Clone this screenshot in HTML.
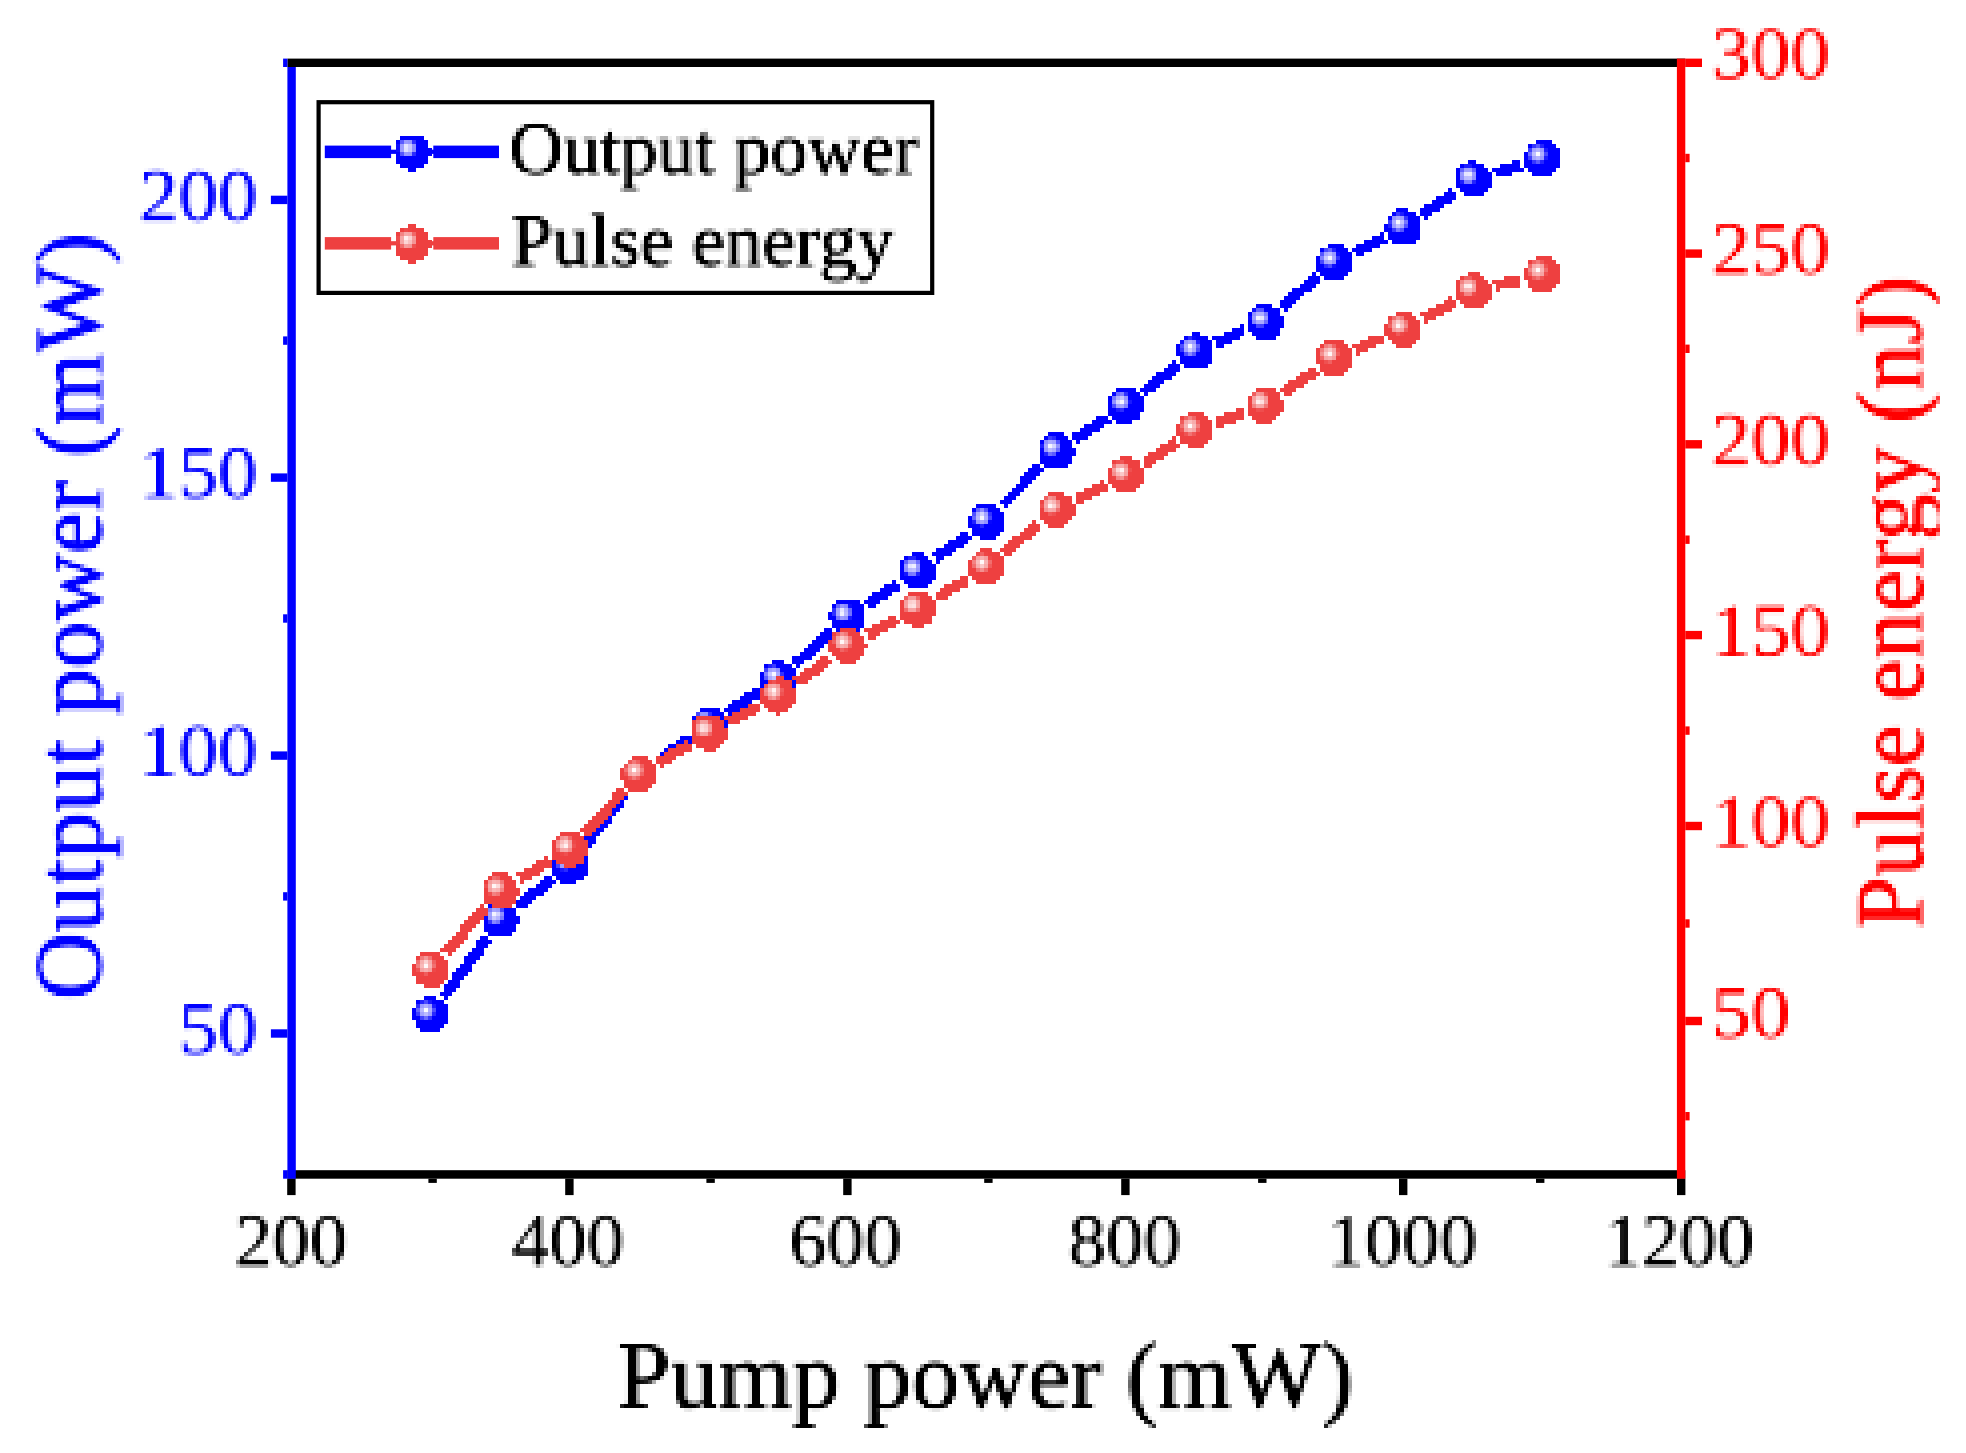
<!DOCTYPE html>
<html lang="en"><head><meta charset="utf-8"><title>Output power and pulse energy vs pump power</title>
<style>html,body{margin:0;padding:0;background:#fff;}body{width:1966px;height:1453px;overflow:hidden;}svg{display:block;}</style>
</head><body>
<svg width="1966" height="1453" viewBox="0 0 1966 1453">
<defs>
<radialGradient id="gb" cx="0.36" cy="0.375" r="0.27"><stop offset="0" stop-color="#ffffff"/><stop offset="0.2" stop-color="#f0f0ff"/><stop offset="0.4" stop-color="#b4b4ff"/><stop offset="0.7" stop-color="#9090ff"/><stop offset="1" stop-color="#0000ff"/></radialGradient>
<radialGradient id="gr" cx="0.36" cy="0.375" r="0.27"><stop offset="0" stop-color="#ffffff"/><stop offset="0.2" stop-color="#fff0f0"/><stop offset="0.4" stop-color="#f9b8b8"/><stop offset="0.7" stop-color="#f59c9c"/><stop offset="1" stop-color="#ee4040"/></radialGradient>
<clipPath id="cr"><rect x="0" y="0" width="1938.5" height="1453"/></clipPath>
<filter id="pxh" x="0" y="0" width="1966" height="1453" filterUnits="userSpaceOnUse" color-interpolation-filters="sRGB">
<feFlood x="1" y="1" width="1" height="1" flood-color="#000" result="dot"/>
<feOffset in="dot" dx="0" dy="0" x="0" y="0" width="4" height="4" result="cell"/>
<feTile in="cell" x="0" y="0" width="1966" height="1453" result="mask"/>
<feComposite in="SourceGraphic" in2="mask" operator="in" result="s0"/>
<feOffset in="s0" dx="1" dy="0" result="o1"/><feMerge result="s1"><feMergeNode in="s0"/><feMergeNode in="o1"/></feMerge>
<feOffset in="s1" dx="2" dy="0" result="o2"/><feMerge result="s2"><feMergeNode in="s1"/><feMergeNode in="o2"/></feMerge>
<feOffset in="s2" dx="0" dy="1" result="o3"/><feMerge result="s3"><feMergeNode in="s2"/><feMergeNode in="o3"/></feMerge>
<feOffset in="s3" dx="0" dy="2" result="o4"/><feMerge result="s4"><feMergeNode in="s3"/><feMergeNode in="o4"/></feMerge>
<feOffset in="s4" dx="-1" dy="-1" result="s5"/>
<feGaussianBlur in="s5" stdDeviation="0.45"/>
</filter>
<filter id="pxs" x="0" y="0" width="1966" height="1453" filterUnits="userSpaceOnUse" color-interpolation-filters="sRGB">
<feGaussianBlur in="SourceGraphic" stdDeviation="1.15" result="b0"/>
<feComponentTransfer in="b0" result="b"><feFuncA type="linear" slope="1.12" intercept="0"/></feComponentTransfer>
<feFlood x="1" y="1" width="1" height="1" flood-color="#000" result="dot"/>
<feOffset in="dot" dx="0" dy="0" x="0" y="0" width="4" height="4" result="cell"/>
<feTile in="cell" x="0" y="0" width="1966" height="1453" result="mask"/>
<feComposite in="b" in2="mask" operator="in" result="s0"/>
<feOffset in="s0" dx="1" dy="0" result="o1"/><feMerge result="s1"><feMergeNode in="s0"/><feMergeNode in="o1"/></feMerge>
<feOffset in="s1" dx="2" dy="0" result="o2"/><feMerge result="s2"><feMergeNode in="s1"/><feMergeNode in="o2"/></feMerge>
<feOffset in="s2" dx="0" dy="1" result="o3"/><feMerge result="s3"><feMergeNode in="s2"/><feMergeNode in="o3"/></feMerge>
<feOffset in="s3" dx="0" dy="2" result="o4"/><feMerge result="s4"><feMergeNode in="s3"/><feMergeNode in="o4"/></feMerge>
<feOffset in="s4" dx="-1" dy="-1" result="s5"/>
<feGaussianBlur in="s5" stdDeviation="0.45"/>
</filter>
<filter id="pxt" x="0" y="0" width="1966" height="1453" filterUnits="userSpaceOnUse" color-interpolation-filters="sRGB">
<feGaussianBlur in="SourceGraphic" stdDeviation="1.15" result="b0"/>
<feComponentTransfer in="b0" result="b"><feFuncA type="linear" slope="1.4" intercept="0"/></feComponentTransfer>
<feFlood x="1" y="1" width="1" height="1" flood-color="#000" result="dot"/>
<feOffset in="dot" dx="0" dy="0" x="0" y="0" width="4" height="4" result="cell"/>
<feTile in="cell" x="0" y="0" width="1966" height="1453" result="mask"/>
<feComposite in="b" in2="mask" operator="in" result="s0"/>
<feOffset in="s0" dx="1" dy="0" result="o1"/><feMerge result="s1"><feMergeNode in="s0"/><feMergeNode in="o1"/></feMerge>
<feOffset in="s1" dx="2" dy="0" result="o2"/><feMerge result="s2"><feMergeNode in="s1"/><feMergeNode in="o2"/></feMerge>
<feOffset in="s2" dx="0" dy="1" result="o3"/><feMerge result="s3"><feMergeNode in="s2"/><feMergeNode in="o3"/></feMerge>
<feOffset in="s3" dx="0" dy="2" result="o4"/><feMerge result="s4"><feMergeNode in="s3"/><feMergeNode in="o4"/></feMerge>
<feOffset in="s4" dx="-1" dy="-1" result="s5"/>
<feGaussianBlur in="s5" stdDeviation="0.45"/>
</filter>
<filter id="soft" x="0" y="0" width="1966" height="1453" filterUnits="userSpaceOnUse"><feGaussianBlur stdDeviation="0.45"/></filter>
</defs>
<rect width="1966" height="1453" fill="#fff"/>
<g id="legend-lines" filter="url(#soft)">
<rect x="324.8" y="145.6" width="66.3" height="12.5" fill="#0000ff"/>
<rect x="433.3" y="145.6" width="65.7" height="12.5" fill="#0000ff"/>
<rect x="391" y="149.7" width="43" height="4.2" fill="#0000ff"/>
<rect x="324.8" y="237.1" width="66.3" height="12.5" fill="#ee4040"/>
<rect x="433.3" y="237.1" width="65.7" height="12.5" fill="#ee4040"/>
<rect x="391" y="241.2" width="43" height="4.2" fill="#ee4040"/>
</g>
<g id="series" filter="url(#pxh)" shape-rendering="crispEdges">
<g id="blue-series">
<line x1="443.3" y1="996.6" x2="486.9" y2="936.9" stroke="#0000ff" stroke-width="11.0"/>
<line x1="517.2" y1="905.6" x2="552.0" y2="878.6" stroke="#0000ff" stroke-width="11.0"/>
<line x1="582.7" y1="847.6" x2="625.5" y2="791.5" stroke="#0000ff" stroke-width="11.0"/>
<line x1="656.7" y1="761.2" x2="690.4" y2="737.1" stroke="#0000ff" stroke-width="11.0"/>
<line x1="726.7" y1="712.2" x2="759.4" y2="690.8" stroke="#0000ff" stroke-width="11.0"/>
<line x1="794.2" y1="664.0" x2="831.0" y2="631.0" stroke="#0000ff" stroke-width="11.0"/>
<line x1="865.7" y1="604.3" x2="898.4" y2="583.0" stroke="#0000ff" stroke-width="11.0"/>
<line x1="934.7" y1="558.2" x2="968.4" y2="533.8" stroke="#0000ff" stroke-width="11.0"/>
<line x1="1001.8" y1="505.3" x2="1040.3" y2="466.3" stroke="#0000ff" stroke-width="11.0"/>
<line x1="1074.2" y1="438.6" x2="1106.9" y2="417.2" stroke="#0000ff" stroke-width="11.0"/>
<line x1="1142.6" y1="391.7" x2="1177.4" y2="364.5" stroke="#0000ff" stroke-width="11.0"/>
<line x1="1215.1" y1="342.5" x2="1244.0" y2="330.3" stroke="#0000ff" stroke-width="11.0"/>
<line x1="1280.9" y1="307.4" x2="1317.1" y2="276.2" stroke="#0000ff" stroke-width="11.0"/>
<line x1="1353.4" y1="251.9" x2="1383.6" y2="236.6" stroke="#0000ff" stroke-width="11.0"/>
<line x1="1421.4" y1="214.3" x2="1454.6" y2="191.5" stroke="#0000ff" stroke-width="11.0"/>
<line x1="1493.8" y1="172.7" x2="1521.2" y2="164.5" stroke="#0000ff" stroke-width="11.0"/>
<circle cx="430.4" cy="1014.4" r="18.3" fill="url(#gb)"/>
<circle cx="499.9" cy="919.1" r="18.3" fill="url(#gb)"/>
<circle cx="569.4" cy="865.1" r="18.3" fill="url(#gb)"/>
<circle cx="638.9" cy="774.0" r="18.3" fill="url(#gb)"/>
<circle cx="708.3" cy="724.3" r="18.3" fill="url(#gb)"/>
<circle cx="777.8" cy="678.7" r="18.3" fill="url(#gb)"/>
<circle cx="847.3" cy="616.3" r="18.3" fill="url(#gb)"/>
<circle cx="916.8" cy="571.0" r="18.3" fill="url(#gb)"/>
<circle cx="986.3" cy="521.0" r="18.3" fill="url(#gb)"/>
<circle cx="1055.8" cy="450.6" r="18.3" fill="url(#gb)"/>
<circle cx="1125.3" cy="405.2" r="18.3" fill="url(#gb)"/>
<circle cx="1194.8" cy="351.0" r="18.3" fill="url(#gb)"/>
<circle cx="1264.3" cy="321.8" r="18.3" fill="url(#gb)"/>
<circle cx="1333.8" cy="261.8" r="18.3" fill="url(#gb)"/>
<circle cx="1403.2" cy="226.7" r="18.3" fill="url(#gb)"/>
<circle cx="1472.7" cy="179.1" r="18.3" fill="url(#gb)"/>
<circle cx="1542.2" cy="158.1" r="18.3" fill="url(#gb)"/>
</g>
<g id="red-series">
<line x1="444.9" y1="952.6" x2="485.3" y2="906.9" stroke="#ee4040" stroke-width="11.0"/>
<line x1="518.7" y1="879.1" x2="550.5" y2="860.1" stroke="#ee4040" stroke-width="11.0"/>
<line x1="584.3" y1="832.7" x2="623.9" y2="790.2" stroke="#ee4040" stroke-width="11.0"/>
<line x1="657.7" y1="762.7" x2="689.5" y2="743.6" stroke="#ee4040" stroke-width="11.0"/>
<line x1="727.8" y1="721.9" x2="758.4" y2="705.6" stroke="#ee4040" stroke-width="11.0"/>
<line x1="795.7" y1="682.5" x2="829.5" y2="658.2" stroke="#ee4040" stroke-width="11.0"/>
<line x1="866.7" y1="635.1" x2="897.4" y2="618.7" stroke="#ee4040" stroke-width="11.0"/>
<line x1="935.7" y1="597.1" x2="967.4" y2="578.1" stroke="#ee4040" stroke-width="11.0"/>
<line x1="1003.2" y1="552.8" x2="1038.9" y2="523.2" stroke="#ee4040" stroke-width="11.0"/>
<line x1="1075.5" y1="499.5" x2="1105.5" y2="484.7" stroke="#ee4040" stroke-width="11.0"/>
<line x1="1143.7" y1="463.0" x2="1176.3" y2="441.8" stroke="#ee4040" stroke-width="11.0"/>
<line x1="1215.5" y1="422.4" x2="1243.5" y2="412.3" stroke="#ee4040" stroke-width="11.0"/>
<line x1="1282.4" y1="392.5" x2="1315.6" y2="369.7" stroke="#ee4040" stroke-width="11.0"/>
<line x1="1354.1" y1="349.0" x2="1382.9" y2="337.4" stroke="#ee4040" stroke-width="11.0"/>
<line x1="1422.5" y1="318.5" x2="1453.5" y2="301.3" stroke="#ee4040" stroke-width="11.0"/>
<line x1="1494.1" y1="285.6" x2="1520.8" y2="279.1" stroke="#ee4040" stroke-width="11.0"/>
<circle cx="430.4" cy="969.1" r="18.3" fill="url(#gr)"/>
<circle cx="499.9" cy="890.4" r="18.3" fill="url(#gr)"/>
<circle cx="569.4" cy="848.8" r="18.3" fill="url(#gr)"/>
<circle cx="638.9" cy="774.1" r="18.3" fill="url(#gr)"/>
<circle cx="708.3" cy="732.2" r="18.3" fill="url(#gr)"/>
<circle cx="777.8" cy="695.3" r="18.3" fill="url(#gr)"/>
<circle cx="847.3" cy="645.4" r="18.3" fill="url(#gr)"/>
<circle cx="916.8" cy="608.4" r="18.3" fill="url(#gr)"/>
<circle cx="986.3" cy="566.8" r="18.3" fill="url(#gr)"/>
<circle cx="1055.8" cy="509.2" r="18.3" fill="url(#gr)"/>
<circle cx="1125.3" cy="475.0" r="18.3" fill="url(#gr)"/>
<circle cx="1194.8" cy="429.8" r="18.3" fill="url(#gr)"/>
<circle cx="1264.3" cy="404.9" r="18.3" fill="url(#gr)"/>
<circle cx="1333.8" cy="357.3" r="18.3" fill="url(#gr)"/>
<circle cx="1403.2" cy="329.1" r="18.3" fill="url(#gr)"/>
<circle cx="1472.7" cy="290.7" r="18.3" fill="url(#gr)"/>
<circle cx="1542.2" cy="274.0" r="18.3" fill="url(#gr)"/>
</g>
<g id="legend-samples">
<circle cx="412" cy="152.0" r="18.3" fill="url(#gb)"/>
<circle cx="412" cy="243.5" r="18.3" fill="url(#gr)"/>
</g></g>
<g id="axes" filter="url(#soft)">
<rect x="287.4" y="58.6" width="1397.9" height="8.4" fill="#000"/>
<rect x="287.4" y="1170.2" width="1397.9" height="8.5" fill="#000"/>
<rect x="287.2" y="1178.7" width="8.4" height="16.4" fill="#000"/>
<rect x="428.4" y="1178.7" width="8.4" height="4.2" fill="#000"/>
<rect x="565.2" y="1178.7" width="8.4" height="16.4" fill="#000"/>
<rect x="706.4" y="1178.7" width="8.4" height="4.2" fill="#000"/>
<rect x="843.2" y="1178.7" width="8.4" height="16.4" fill="#000"/>
<rect x="984.2" y="1178.7" width="8.4" height="4.2" fill="#000"/>
<rect x="1121.2" y="1178.7" width="8.4" height="16.4" fill="#000"/>
<rect x="1258.1" y="1178.7" width="8.4" height="4.2" fill="#000"/>
<rect x="1399.0" y="1178.7" width="8.4" height="16.4" fill="#000"/>
<rect x="1536.0" y="1178.7" width="8.4" height="4.2" fill="#000"/>
<rect x="1677.0" y="1178.7" width="8.4" height="16.4" fill="#000"/>
<rect x="287.4" y="67.0" width="8.4" height="1111.7" fill="#0000ff"/>
<rect x="270.9" y="195.7" width="16.5" height="8.4" fill="#0000ff"/>
<rect x="270.9" y="473.4" width="16.5" height="8.4" fill="#0000ff"/>
<rect x="270.9" y="751.4" width="16.5" height="8.4" fill="#0000ff"/>
<rect x="270.9" y="1029.3" width="16.5" height="8.4" fill="#0000ff"/>
<rect x="283.1" y="336.4" width="4.3" height="8.4" fill="#0000ff"/>
<rect x="283.1" y="614.3" width="4.3" height="8.4" fill="#0000ff"/>
<rect x="283.1" y="892.2" width="4.3" height="8.4" fill="#0000ff"/>
<rect x="283.1" y="58.6" width="4.3" height="8.4" fill="#0000ff"/>
<rect x="283.1" y="1170.2" width="4.3" height="8.5" fill="#0000ff"/>
<rect x="1676.9" y="58.6" width="8.4" height="1120.1" fill="#ff0000"/>
<rect x="1685.3" y="58.6" width="16.7" height="8.4" fill="#ff0000"/>
<rect x="1685.3" y="249.4" width="16.7" height="8.4" fill="#ff0000"/>
<rect x="1685.3" y="440.1" width="16.7" height="8.4" fill="#ff0000"/>
<rect x="1685.3" y="630.9" width="16.7" height="8.4" fill="#ff0000"/>
<rect x="1685.3" y="821.8" width="16.7" height="8.4" fill="#ff0000"/>
<rect x="1685.3" y="1016.8" width="16.7" height="8.4" fill="#ff0000"/>
<rect x="1685.3" y="153.8" width="4.3" height="8.4" fill="#ff0000"/>
<rect x="1685.3" y="344.6" width="4.3" height="8.4" fill="#ff0000"/>
<rect x="1685.3" y="535.5" width="4.3" height="8.4" fill="#ff0000"/>
<rect x="1685.3" y="726.4" width="4.3" height="8.4" fill="#ff0000"/>
<rect x="1685.3" y="919.3" width="4.3" height="8.4" fill="#ff0000"/>
<rect x="1685.3" y="1112.0" width="4.3" height="8.4" fill="#ff0000"/>
<rect x="318.6" y="102.2" width="613.6" height="190.7" fill="none" stroke="#000" stroke-width="4.2"/>
</g>
<g id="tick-labels" filter="url(#pxs)" font-family="'Liberation Serif', 'Times New Roman', Times, serif" font-size="75">
<text x="138.5" y="219.7" fill="#0000ff" textLength="118.5" lengthAdjust="spacingAndGlyphs">200</text>
<text x="138.5" y="497.4" fill="#0000ff" textLength="118.5" lengthAdjust="spacingAndGlyphs">150</text>
<text x="138.5" y="775.4" fill="#0000ff" textLength="118.5" lengthAdjust="spacingAndGlyphs">100</text>
<text x="178" y="1053.3" fill="#0000ff" textLength="79" lengthAdjust="spacingAndGlyphs">50</text>
<text x="1711" y="78.4" fill="#ff0000" textLength="118.5" lengthAdjust="spacingAndGlyphs">300</text>
<text x="1711" y="273.2" fill="#ff0000" textLength="118.5" lengthAdjust="spacingAndGlyphs">250</text>
<text x="1711" y="463.9" fill="#ff0000" textLength="118.5" lengthAdjust="spacingAndGlyphs">200</text>
<text x="1711" y="654.7" fill="#ff0000" textLength="118.5" lengthAdjust="spacingAndGlyphs">150</text>
<text x="1711" y="845.6" fill="#ff0000" textLength="118.5" lengthAdjust="spacingAndGlyphs">100</text>
<text x="1711" y="1036.8" fill="#ff0000" textLength="79" lengthAdjust="spacingAndGlyphs">50</text>
<text x="290.6" y="1265" text-anchor="middle" fill="#000">200</text>
<text x="567.6" y="1265" text-anchor="middle" fill="#000">400</text>
<text x="845.1" y="1265" text-anchor="middle" fill="#000">600</text>
<text x="1124.3" y="1265" text-anchor="middle" fill="#000">800</text>
<text x="1401.7" y="1265" text-anchor="middle" fill="#000">1000</text>
<text x="1678.8" y="1265" text-anchor="middle" fill="#000">1200</text>
</g>
<g id="titles" filter="url(#pxt)" font-family="'Liberation Serif', 'Times New Roman', Times, serif">
<g font-size="75">
<text x="509" y="172.5" fill="#000" textLength="409" lengthAdjust="spacingAndGlyphs">Output power</text>
<text x="510.5" y="264.5" fill="#000" textLength="383" lengthAdjust="spacingAndGlyphs">Pulse energy</text>
</g>
<g font-size="96">
<text x="617" y="1406.5" fill="#000" textLength="736" lengthAdjust="spacingAndGlyphs">Pump power (mW)</text>
<text transform="translate(100.5,999.5) rotate(-90)" fill="#0000ff" textLength="767" lengthAdjust="spacingAndGlyphs">Output power (mW)</text>
<g clip-path="url(#cr)"><text transform="translate(1921.5,928.5) rotate(-90)" fill="#ff0000" textLength="653" lengthAdjust="spacingAndGlyphs">Pulse energy (nJ)</text></g>
</g></g>
</svg>
</body></html>
